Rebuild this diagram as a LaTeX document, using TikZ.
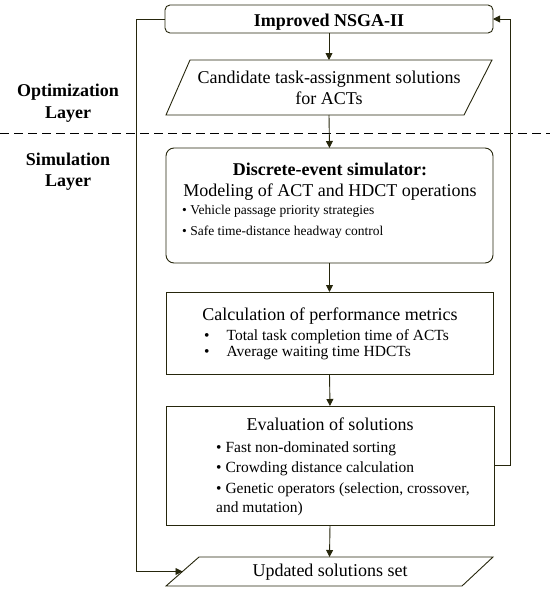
\documentclass[tikz,border=0pt]{standalone}
\usepackage{fontspec}
\setmainfont{Liberation Serif}
\usetikzlibrary{arrows.meta,calc}
\definecolor{lncol}{RGB}{38,38,12}
\begin{document}
\begin{tikzpicture}[x=1pt,y=-1pt,
  line/.style={draw=lncol, line width=0.9pt},
  arr/.style={line, -{Triangle[length=7pt,width=7pt]}},
  box/.style={line, minimum width=#1, inner sep=0pt, outer sep=0pt},
  shapebox/.style={inner sep=0pt, outer sep=0pt, minimum width=#1},
  big/.style={font=\fontsize{18}{21}\selectfont},
  bigb/.style={font=\fontsize{18}{21}\selectfont\bfseries},
  smallt/.style={font=\fontsize{13.5}{16}\selectfont},
  midt/.style={font=\fontsize{15.5}{20}\selectfont},
  lbl/.style={inner sep=0pt, anchor=base}
]
\useasboundingbox (0,0) rectangle (550,592);

% layer separator
\draw[line, draw=black, dash pattern=on 9pt off 5pt] (0,133) -- (550,133);
\node[lbl, bigb] (opt1) at (68,96.7) {Optimization};
\node[lbl, bigb] (opt2) at (68,118.3) {Layer};
\node[lbl, bigb] (sim1) at (68,165) {Simulation};
\node[lbl, bigb] (sim2) at (68,186) {Layer};

% boxes
\node[box=328pt, minimum height=28pt, rounded corners=5pt] (top) at (329,19) {};
\node[shapebox=326pt, minimum height=55pt] (cand) at (329,87.5) {};
\draw[line] ($(cand.north west)+(24,0)$) -- (cand.north east) -- ($(cand.south east)+(-28,0)$) -- (cand.south west) -- cycle;
\node[box=327pt, minimum height=115pt, rounded corners=8pt] (sim) at (329.5,205.5) {};
\node[box=327pt, minimum height=82pt] (calc) at (329.5,333) {};
\node[box=328pt, minimum height=119pt] (eval) at (330,465.5) {};
\node[shapebox=327pt, minimum height=29pt] (upd) at (329.5,571.5) {};
\draw[line] ($(upd.north west)+(33,0)$) -- (upd.north east) -- ($(upd.south east)+(-31,0)$) -- (upd.south west) -- cycle;
\coordinate (updL) at ($(upd.west)+(16.5,0)$);

% texts
\node[lbl, bigb] (ttop) at (329,26) {Improved NSGA-II};
\node[lbl, big] (tc1) at (329,83.3) {Candidate task-assignment solutions};
\node[lbl, big] (tc2) at (329,104.3) {for ACTs};

\node[lbl, bigb] (ts1) at (330,175) {Discrete-event simulator:};
\node[lbl, big] (ts2) at (330,196.7) {Modeling of ACT and HDCT operations};
\node[lbl, smallt, anchor=base west] (ts3) at (182,214) {\textbullet\ Vehicle passage priority strategies};
\node[lbl, smallt, anchor=base west] (ts4) at (182,235.7) {\textbullet\ Safe time-distance headway control};

\node[lbl, big] (tk1) at (330,320) {Calculation of performance metrics};
\node[lbl, midt, anchor=base west] (tk2) at (204,340) {\textbullet\hspace{17pt}Total task completion time of ACTs};
\node[lbl, midt, anchor=base west] (tk3) at (204,356) {\textbullet\hspace{17pt}Average waiting time HDCTs};

\node[lbl, big] (te1) at (330,430.7) {Evaluation of solutions};
\node[lbl, midt, anchor=base west] (te2) at (216,452.3) {\textbullet\ Fast non-dominated sorting};
\node[lbl, midt, anchor=base west] (te3) at (216,472.3) {\textbullet\ Crowding distance calculation};
\node[lbl, midt, anchor=base west] (te4) at (216,493.3) {\textbullet\ Genetic operators (selection, crossover,};
\node[lbl, midt, anchor=base west] (te5) at (216,512.7) {and mutation)};

\node[lbl, big] (tu) at (330,576.7) {Updated solutions set};

% connectors
\draw[arr] (top.south) -- (cand.north);
\draw[arr] (cand.south) -- (sim.north);
\draw[arr] (sim.south) -- (calc.north);
\draw[arr] (calc.south) -- (eval.north);
\draw[arr] (eval.south) -- (upd.north);
\draw[arr] (top.west) -- ++(-29,0) |- (updL);
\draw[arr] (eval.east) -- ++(16,0) |- (top.east);
\end{tikzpicture}
\end{document}
